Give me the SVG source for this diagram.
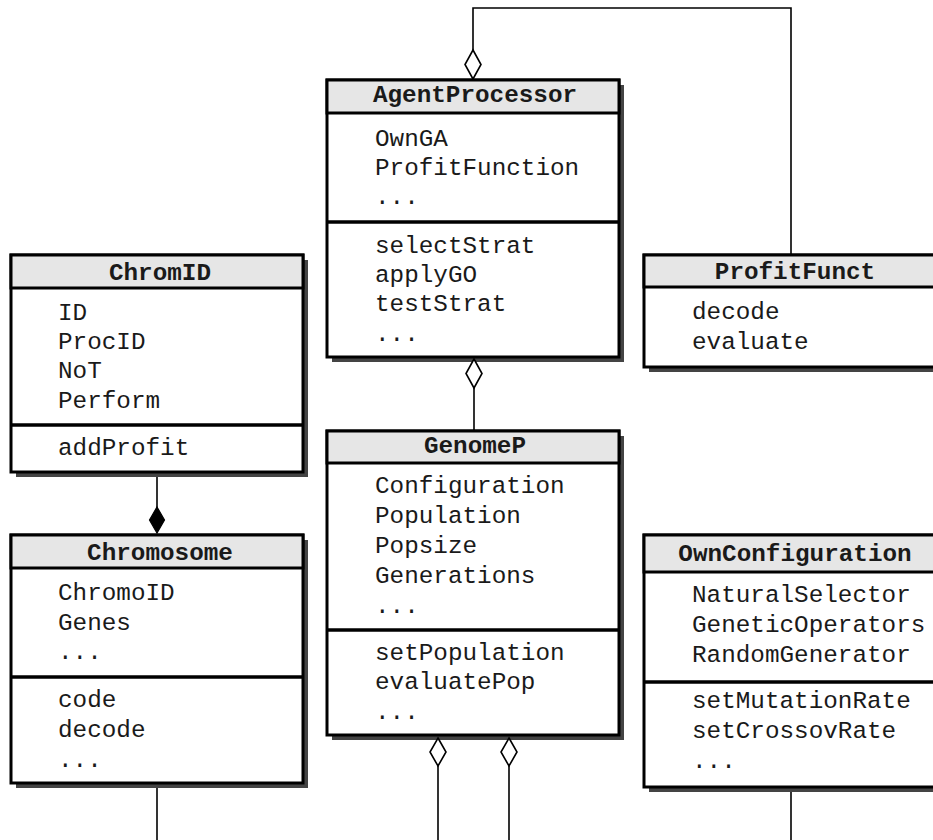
<svg xmlns="http://www.w3.org/2000/svg" width="933" height="840" viewBox="0 0 933 840">
<style>
.shadow{fill:#444;stroke:none}
.box{fill:#fff;stroke:#000;stroke-width:3}
.hdr{fill:#e6e6e6;stroke:#000;stroke-width:3}
.sep{stroke:#000;stroke-width:3.5}
.t{font-family:"Liberation Mono","Courier New",monospace;font-size:24.3px;fill:#1a1a1a}
.h{font-family:"Liberation Mono","Courier New",monospace;font-size:24.3px;font-weight:bold;fill:#1a1a1a;text-anchor:middle}
.ln{fill:none;stroke:#000;stroke-width:1.6}
.dia{fill:#fff;stroke:#000;stroke-width:1.6}
.fdia{fill:#000;stroke:#000;stroke-width:1.2}
</style>
<rect width="933" height="840" fill="#fff"/>

<g id="connectors">
  <polyline class="ln" points="473,50 473,8 791,8 791,255"/>
  <line class="ln" x1="474" y1="388" x2="474" y2="431"/>
  <line class="ln" x1="157" y1="472" x2="157" y2="508"/>
  <line class="ln" x1="157" y1="783" x2="157" y2="840"/>
  <line class="ln" x1="438" y1="766" x2="438" y2="840"/>
  <line class="ln" x1="509" y1="766" x2="509" y2="840"/>
  <line class="ln" x1="791" y1="787" x2="791" y2="840"/>
</g>

<g id="AgentProcessor">
  <rect class="shadow" x="332" y="85" width="292" height="277"/>
  <rect class="box" x="327" y="80" width="292" height="277"/>
  <rect class="hdr" x="327" y="80" width="292" height="33"/>
  <line class="sep" x1="327" y1="222" x2="619" y2="222"/>
  <text class="h" x="475" y="102">AgentProcessor</text>
  <text class="t" x="375" y="146">OwnGA</text>
  <text class="t" x="375" y="175">ProfitFunction</text>
  <text class="t" x="375" y="204">...</text>
  <text class="t" x="375" y="253">selectStrat</text>
  <text class="t" x="375" y="282">applyGO</text>
  <text class="t" x="375" y="311">testStrat</text>
  <text class="t" x="375" y="341">...</text>
</g>

<g id="ChromID">
  <rect class="shadow" x="16" y="260" width="292" height="217"/>
  <rect class="box" x="11" y="255" width="292" height="217"/>
  <rect class="hdr" x="11" y="255" width="292" height="33"/>
  <line class="sep" x1="11" y1="425" x2="303" y2="425"/>
  <text class="h" x="160" y="280">ChromID</text>
  <text class="t" x="58" y="320">ID</text>
  <text class="t" x="58" y="349">ProcID</text>
  <text class="t" x="58" y="378">NoT</text>
  <text class="t" x="58" y="408">Perform</text>
  <text class="t" x="58" y="455">addProfit</text>
</g>

<g id="Chromosome">
  <rect class="shadow" x="16" y="540" width="292" height="248"/>
  <rect class="box" x="11" y="535" width="292" height="248"/>
  <rect class="hdr" x="11" y="535" width="292" height="33"/>
  <line class="sep" x1="11" y1="677" x2="303" y2="677"/>
  <text class="h" x="160" y="560">Chromosome</text>
  <text class="t" x="58" y="600">ChromoID</text>
  <text class="t" x="58" y="630">Genes</text>
  <text class="t" x="58" y="659">...</text>
  <text class="t" x="58" y="707">code</text>
  <text class="t" x="58" y="737">decode</text>
  <text class="t" x="58" y="767">...</text>
</g>

<g id="GenomeP">
  <rect class="shadow" x="332" y="436" width="292" height="304"/>
  <rect class="box" x="327" y="431" width="292" height="304"/>
  <rect class="hdr" x="327" y="431" width="292" height="32"/>
  <line class="sep" x1="327" y1="630" x2="619" y2="630"/>
  <text class="h" x="475" y="453">GenomeP</text>
  <text class="t" x="375" y="493">Configuration</text>
  <text class="t" x="375" y="523">Population</text>
  <text class="t" x="375" y="553">Popsize</text>
  <text class="t" x="375" y="583">Generations</text>
  <text class="t" x="375" y="613">...</text>
  <text class="t" x="375" y="660">setPopulation</text>
  <text class="t" x="375" y="689">evaluatePop</text>
  <text class="t" x="375" y="719">...</text>
</g>

<g id="ProfitFunct">
  <rect class="shadow" x="649" y="260" width="302" height="112"/>
  <rect class="box" x="644" y="255" width="302" height="112"/>
  <rect class="hdr" x="644" y="255" width="302" height="32"/>
  <text class="h" x="795" y="279">ProfitFunct</text>
  <text class="t" x="692" y="319">decode</text>
  <text class="t" x="692" y="349">evaluate</text>
</g>

<g id="OwnConfiguration">
  <rect class="shadow" x="649" y="540" width="302" height="252"/>
  <rect class="box" x="644" y="535" width="302" height="252"/>
  <rect class="hdr" x="644" y="535" width="302" height="37"/>
  <line class="sep" x1="644" y1="682" x2="946" y2="682"/>
  <text class="h" x="795" y="561">OwnConfiguration</text>
  <text class="t" x="692" y="602">NaturalSelector</text>
  <text class="t" x="692" y="632">GeneticOperators</text>
  <text class="t" x="692" y="662">RandomGenerator</text>
  <text class="t" x="692" y="708">setMutationRate</text>
  <text class="t" x="692" y="738">setCrossovRate</text>
  <text class="t" x="692" y="768">...</text>
</g>

<g id="ends">
  <polygon class="dia" points="473,50 481,64.5 473,79 465,64.5"/>
  <polygon class="dia" points="474,359 482,373.5 474,388 466,373.5"/>
  <polygon class="fdia" points="157,507 164.5,520 157,533 149.5,520"/>
  <polygon class="dia" points="438,738 446,752 438,766 430,752"/>
  <polygon class="dia" points="509,738 517,752 509,766 501,752"/>
</g>
</svg>
